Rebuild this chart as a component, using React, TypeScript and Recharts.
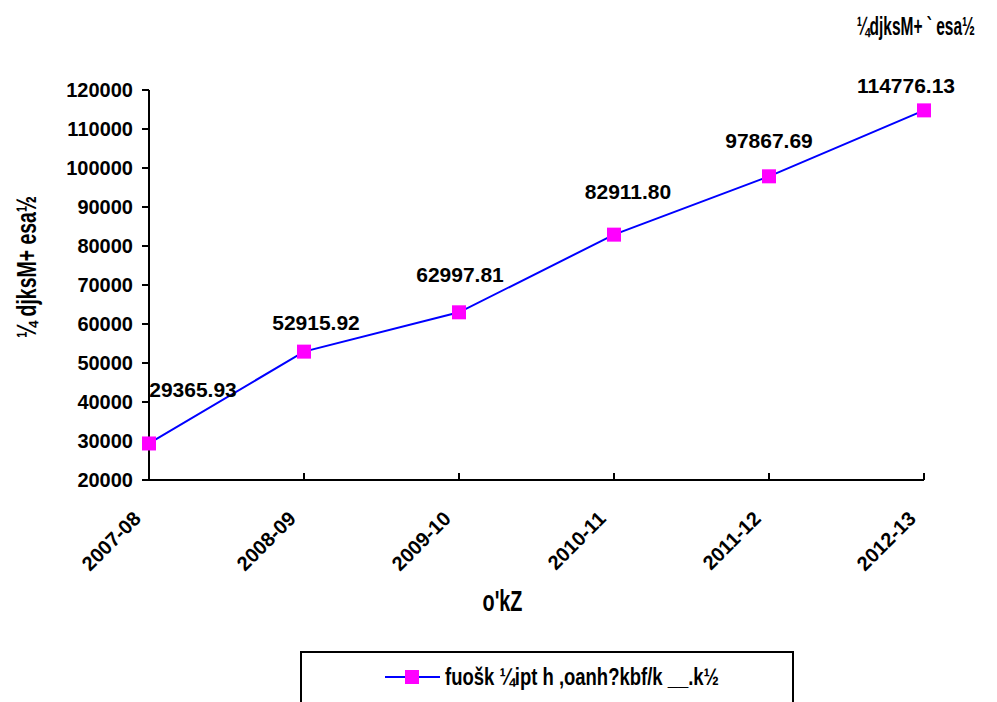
import React, { useEffect } from 'react';
import { LineChart, Line, XAxis, YAxis, Legend, LabelList, Label } from 'recharts';

const years = ['2007-08', '2008-09', '2009-10', '2010-11', '2011-12', '2012-13'];
const investment = [29365.93, 52915.92, 62997.81, 82911.8, 97867.69, 114776.13];
const yTicks = [20000, 30000, 40000, 50000, 60000, 70000, 80000, 90000, 100000, 110000, 120000];

const seriesName = 'fuošk ¼ipt h ,oanh?kbf/k __.k½';
const unitText = '¼djksM+ ` esa½';
const yTitle = '¼ djksM+ esa½';
const xTitle = "o'kZ";

// label nudges, per point (dx, dy)
const labelNudge = [
  [44, -54],
  [12, -29],
  [1, -38],
  [14, -43],
  [0, -36],
  [-18, -25],
];

const data = years.map((y, i) => ({ year: y, value: investment[i] }));

const arial = '"Liberation Sans", Arial, sans-serif';

// the titles are drawn narrow, like the condensed font of the original
const NarrowText = ({ x, y, sx, size, angle = 0, anchor = 'start', children }: any) => (
  <text
    x={0}
    y={0}
    transform={`translate(${x},${y}) rotate(${angle}) scale(${sx},1)`}
    textAnchor={anchor}
    dominantBaseline="central"
    fontFamily={arial}
    fontWeight="bold"
    fontSize={size}
    fill="#000"
  >
    {children}
  </text>
);

const SquareDot = (props: any) => {
  const { cx, cy } = props;
  if (cx == null || cy == null) return null;
  return <rect x={cx - 7} y={cy - 7} width={14} height={14} fill="#FF00FF" />;
};

const YearTick = (props: any) => {
  const { x, y, payload } = props;
  return (
    <g>
      <line x1={x} y1={y} x2={x} y2={y - 7} stroke="#000" strokeWidth={2} />
      <text
        x={0}
        y={0}
        transform={`translate(${x - 7},${y + 40}) rotate(-45)`}
        textAnchor="end"
        fontFamily={arial}
        fontWeight="bold"
        fontSize={20}
        fill="#000"
      >
        {payload.value}
      </text>
    </g>
  );
};

const PointLabel = (props: any) => {
  const { x, y, value, index } = props;
  const [dx, dy] = labelNudge[index] || [0, -30];
  return (
    <text
      x={x + dx}
      y={y + dy}
      textAnchor="middle"
      dominantBaseline="central"
      fontFamily={arial}
      fontWeight="bold"
      fontSize={21}
      fill="#000"
    >
      {Number(value).toFixed(2)}
    </text>
  );
};

const LegendBox = () => (
  <div
    style={{
      boxSizing: 'border-box',
      width: 494,
      height: 70,
      border: '2px solid #000',
      background: '#fff',
      position: 'relative',
    }}
  >
    <svg width={490} height={66} style={{ position: 'absolute', left: 0, top: 0 }}>
      <line x1={83} y1={24} x2={138} y2={24} stroke="#0000FF" strokeWidth={2} />
      <rect x={103} y={17} width={14} height={14} fill="#FF00FF" />
      <NarrowText x={143} y={24} sx={0.77} size={24}>
        {seriesName}
      </NarrowText>
    </svg>
  </div>
);

export default function App() {
  useEffect(() => {
    document.body.style.margin = '0';
  }, []);

  return (
    <div style={{ position: 'relative', width: 997, height: 702, background: '#fff', overflow: 'hidden' }}>
      <LineChart
        width={997}
        height={702}
        data={data}
        margin={{ top: 90, right: 73, left: 0, bottom: 122 }}
      >
        <XAxis
          dataKey="year"
          height={100}
          axisLine={{ stroke: '#000', strokeWidth: 2 }}
          tickLine={false}
          tickSize={0}
          tickMargin={0}
          tick={<YearTick />}
          interval={0}
        >
          <Label
            content={({ viewBox }: any) => (
              <NarrowText
                x={viewBox.x + viewBox.width / 2 - 34}
                y={viewBox.y + 120}
                sx={0.66}
                size={30}
                anchor="middle"
              >
                {xTitle}
              </NarrowText>
            )}
          />
        </XAxis>
        <YAxis
          width={149}
          domain={[20000, 120000]}
          ticks={yTicks}
          interval={0}
          axisLine={{ stroke: '#000', strokeWidth: 2 }}
          tickLine={{ stroke: '#000', strokeWidth: 2 }}
          tickSize={7}
          tickMargin={9}
          tick={{ fontFamily: arial, fontWeight: 'bold', fontSize: 20, fill: '#000' }}
        >
          <Label
            content={({ viewBox }: any) => (
              <NarrowText
                x={27}
                y={viewBox.y + viewBox.height / 2 - 18}
                sx={0.72}
                size={27}
                angle={-90}
                anchor="middle"
              >
                {yTitle}
              </NarrowText>
            )}
          />
        </YAxis>
        <Legend
          layout="horizontal"
          verticalAlign="middle"
          align="center"
          content={<LegendBox />}
          wrapperStyle={{ position: 'absolute', left: 300, top: 651, width: 494, height: 70 }}
        />
        <Line
          type="linear"
          dataKey="value"
          name={seriesName}
          stroke="#0000FF"
          strokeWidth={2}
          dot={<SquareDot />}
          activeDot={false}
          isAnimationActive={false}
        >
          <LabelList dataKey="value" content={<PointLabel />} />
        </Line>
      </LineChart>
      <svg width={997} height={60} style={{ position: 'absolute', left: 0, top: 0, pointerEvents: 'none' }}>
        <NarrowText x={975} y={26} sx={0.62} size={25} anchor="end">
          {unitText}
        </NarrowText>
      </svg>
    </div>
  );
}
